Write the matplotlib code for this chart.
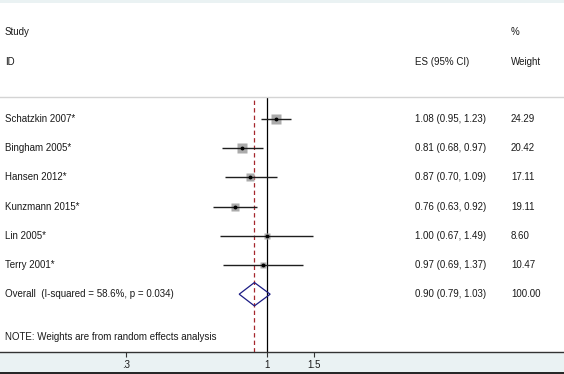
import matplotlib
matplotlib.use("Agg")
import matplotlib.pyplot as plt
import numpy as np
from matplotlib.ticker import FixedLocator, FixedFormatter, NullLocator
from matplotlib.patches import Rectangle, Polygon
from matplotlib.lines import Line2D
import matplotlib.transforms as mtransforms

# ---- data ----
studies = ["Schatzkin 2007*", "Bingham 2005*", "Hansen 2012*", "Kunzmann 2015*", "Lin 2005*", "Terry 2001*"]
es = [1.08, 0.81, 0.87, 0.76, 1.00, 0.97]
ci_low = [0.95, 0.68, 0.70, 0.63, 0.67, 0.69]
ci_high = [1.23, 0.97, 1.09, 0.92, 1.49, 1.37]
weights = [24.29, 20.42, 17.11, 19.11, 8.60, 10.47]
overall_es = 0.90
overall_low = 0.79
overall_high = 1.03
overall_weight = 100.00
overall_label = "Overall  (I-squared = 58.6%, p = 0.034)"
note = "NOTE: Weights are from random effects analysis"
xtick_values = [0.3, 1, 1.5]
xtick_labels = [".3", "1", "1.5"]

# ---- style ----
plt.rcParams['font.family'] = ['Liberation Sans', 'DejaVu Sans']
BG = "#eaf2f3"
TXT = "#1a1a1a"
FS = 7

W, H = 564, 374
fig = plt.figure(figsize=(W / 100, H / 100), dpi=100, facecolor=BG)

# white plot region
fig.add_artist(Rectangle((0, (H - 352) / H), 1, (352 - 3) / H, transform=fig.transFigure,
                         facecolor="white", edgecolor="none", zorder=0))
fig.add_artist(Line2D([0, 1], [0.6 / H, 0.6 / H], transform=fig.transFigure, color="black", lw=1.2))

ax = fig.add_axes([0, (H - 352) / H, 1, (352 - 97) / H])
ax.set_facecolor("white")
ax.set_xscale("log")
px_per_ln = 116.7
x_one = 266.7
ax.set_xlim(np.exp(-x_one / px_per_ln), np.exp((W - x_one) / px_per_ln))
row_h = 29.2
ax.set_ylim((352 - 119) / row_h, (97 - 119) / row_h)

rows = np.arange(len(studies))
overall_row = len(studies)
note_row = (337 - 119) / row_h

# reference lines
ax.axvline(1, color="black", lw=0.9, zorder=2)
ax.axvline(overall_es, color="#a5262c", lw=0.9, ls=(0, (3.5, 2.5)), zorder=2)

# CIs and boxes
for r, e, l, h, w in zip(rows, es, ci_low, ci_high, weights):
    ax.plot([l, h], [r, r], color="#1e1e1e", lw=1.0, zorder=3, solid_capstyle="butt")
    ax.plot([e], [r], marker="s", ms=1.45 * np.sqrt(w), color="#ababab", mec="none", zorder=2.5)
    ax.plot([e], [r], marker="o", ms=2.8, color="black", mec="none", zorder=4)

# diamond
dh = 0.4
ax.add_patch(Polygon([[overall_low, overall_row], [overall_es, overall_row - dh],
                      [overall_high, overall_row], [overall_es, overall_row + dh]],
                     closed=True, fill=False, edgecolor="#1c1c84", lw=0.9, zorder=5))

# texts
blend = mtransforms.blended_transform_factory(ax.transAxes, ax.transData)
x_study = 5 / W
x_es = 415 / W
x_w = 511 / W
for r, s, e, l, h, w in zip(rows, studies, es, ci_low, ci_high, weights):
    ax.text(x_study, r, s, transform=blend, ha="left", va="center", fontsize=FS, color=TXT)
    ax.text(x_es, r, f"{e:.2f} ({l:.2f}, {h:.2f})", transform=blend, ha="left", va="center", fontsize=FS, color=TXT)
    ax.text(x_w, r, f"{w:.2f}", transform=blend, ha="left", va="center", fontsize=FS, color=TXT)
ax.text(x_study, overall_row, overall_label, transform=blend, ha="left", va="center", fontsize=FS, color=TXT)
ax.text(x_es, overall_row, f"{overall_es:.2f} ({overall_low:.2f}, {overall_high:.2f})", transform=blend,
        ha="left", va="center", fontsize=FS, color=TXT)
ax.text(x_w, overall_row, f"{overall_weight:.2f}", transform=blend, ha="left", va="center", fontsize=FS, color=TXT)
ax.text(x_study, note_row, note, transform=blend, ha="left", va="center", fontsize=FS, color=TXT)

# headers
fig.text(x_study, 1 - 32 / H, "Study", ha="left", va="center", fontsize=FS, color=TXT)
fig.text(x_study, 1 - 62 / H, "ID", ha="left", va="center", fontsize=FS, color=TXT)
fig.text(x_es, 1 - 62 / H, "ES (95% CI)", ha="left", va="center", fontsize=FS, color=TXT)
fig.text(x_w, 1 - 32 / H, "%", ha="left", va="center", fontsize=FS, color=TXT)
fig.text(x_w, 1 - 62 / H, "Weight", ha="left", va="center", fontsize=FS, color=TXT)

# spines & ticks
for s in ["left", "right"]:
    ax.spines[s].set_visible(False)
ax.spines["top"].set_color("#d4d4d4")
ax.spines["top"].set_linewidth(1.0)
ax.spines["bottom"].set_color("#333333")
ax.spines["bottom"].set_linewidth(1.0)
ax.xaxis.set_major_locator(FixedLocator(xtick_values))
ax.xaxis.set_major_formatter(FixedFormatter(xtick_labels))
ax.xaxis.set_minor_locator(NullLocator())
ax.yaxis.set_major_locator(NullLocator())
ax.yaxis.set_minor_locator(NullLocator())
ax.tick_params(axis="x", direction="out", length=3.5, width=0.8, color="#333333",
               labelsize=FS, labelcolor=TXT, pad=2.5)

fig.savefig("out.png", dpi=100, facecolor=BG)
